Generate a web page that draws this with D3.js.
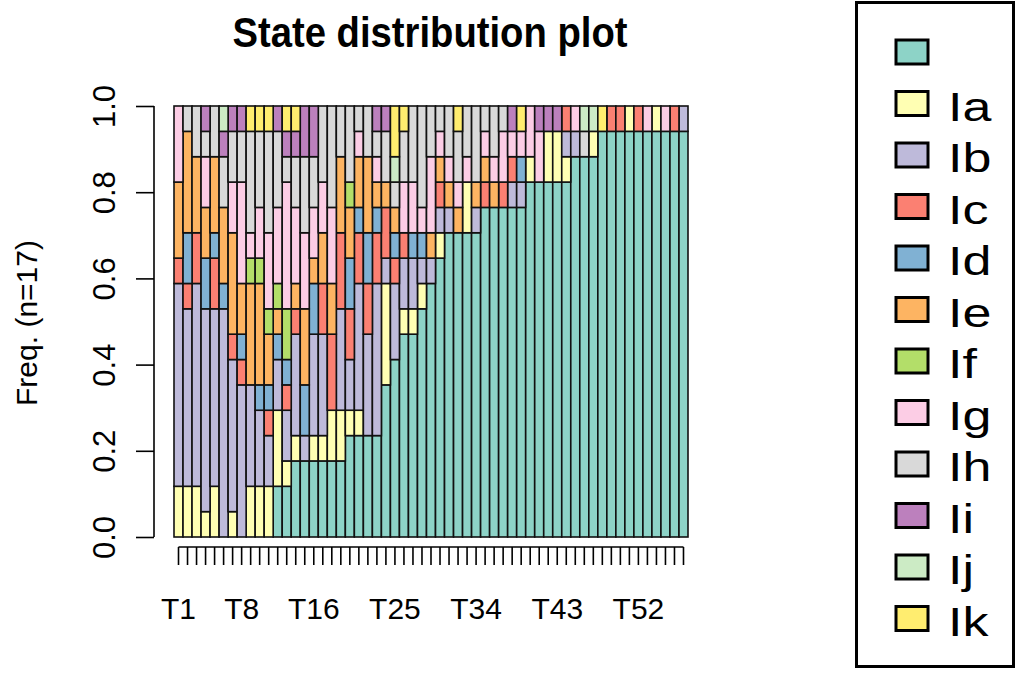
<!DOCTYPE html>
<html>
<head>
<meta charset="utf-8">
<script src="https://cdn.jsdelivr.net/npm/d3@7"></script>
<style>
  html, body { margin: 0; padding: 0; background: #fff; }
  svg { display: block; }
  text { font-family: "Liberation Sans", Arial, Helvetica, sans-serif; fill: #000; }
</style>
</head>
<body>
<svg id="chart" width="1017" height="675"></svg>
<script>
// Time points T1..T57
const timeLabels = d3.range(1, 58).map(i => "T" + i);
const shownTicks = ["T1", "T8", "T16", "T25", "T34", "T43", "T52"];

// State labels and palette (bottom to top in each bar)
const stateLabels = ["", "Ia", "Ib", "Ic", "Id", "Ie", "If", "Ig", "Ih", "Ii", "Ij", "Ik"];
const stateColors = ["#8DD3C7", "#FFFFB3", "#BEBADA", "#FB8072", "#80B1D3", "#FDB462",
                     "#B3DE69", "#FCCDE5", "#D9D9D9", "#BC80BD", "#CCEBC5", "#FFED6F"];

const nSeq = 17;

// Number of sequences in each state at every time point
const sBlank = [0,0,0,0,0,0,0,0,0,0, 0,2,2,3,3,3,3,3,3,4, 4,4,4,6,7,8,8,9,10,11, 12,12,12,12,13,13,13,13,13,14, 14,14,14,14,15,15,15,16,16,16, 16,16,16,16,16,16,16];
const sIa    = [2,2,2,1,2,0,1,0,2,2, 2,3,1,1,0,1,1,2,2,1, 1,0,0,4,0,1,1,1,0,1, 0,0,2,0,0,0,0,0,0,1, 0,2,2,1,0,0,1,0,0,0, 1,0,0,1,0,0,0];
const sIb    = [8,7,8,8,7,9,6,6,4,3, 2,2,2,4,1,4,4,0,4,2, 5,4,6,1,3,2,2,1,1,1, 1,0,0,1,0,0,0,1,1,0, 0,0,0,1,1,0,0,0,0,0, 0,0,0,0,0,0,1];
const sIc    = [1,1,2,0,2,0,1,1,0,0, 1,0,1,1,0,0,2,3,3,2, 2,2,2,2,1,1,0,0,0,1, 0,0,0,0,1,0,1,1,0,0, 0,0,0,1,0,0,0,0,1,1, 0,1,0,0,0,1,0];
const sId    = [0,2,0,2,1,1,0,1,0,1, 1,1,1,0,2,2,0,0,0,2, 1,2,1,0,1,0,1,1,0,0, 0,0,0,0,0,0,0,0,1,0, 0,0,0,0,0,0,0,0,0,0, 0,0,0,0,0,0,0];
const sIe    = [3,4,3,2,3,3,4,2,4,4, 2,1,0,1,3,1,2,2,3,2, 2,3,1,1,1,0,0,0,1,1, 1,1,0,1,1,1,0,0,0,0, 0,0,0,0,0,0,0,0,0,0, 0,0,0,0,0,0,0];
const sIf    = [0,0,0,0,0,0,0,0,1,1, 1,1,2,0,0,0,0,0,0,1, 0,0,0,0,0,0,0,0,0,0, 0,0,0,0,0,0,0,0,0,0, 0,0,0,0,0,0,0,0,0,0, 0,0,0,0,0,0,0];
const sIg    = [3,0,0,2,0,0,2,4,1,2, 3,3,5,3,3,2,2,3,0,0, 1,0,1,0,0,2,2,1,3,1, 1,1,1,0,1,1,2,1,1,2, 2,0,0,0,1,0,0,0,0,0, 0,0,1,0,1,0,0];
const sIh    = [0,1,2,1,2,2,2,2,4,3, 4,3,1,2,3,2,3,4,2,3, 1,2,1,2,1,2,3,4,2,1, 2,2,2,3,1,2,1,0,0,0, 0,0,0,0,0,1,0,0,0,0, 0,0,0,0,0,0,0];
const sIi    = [0,0,0,1,0,1,1,1,0,0, 0,1,1,1,2,2,0,0,0,0, 0,0,1,1,0,0,0,0,0,0, 0,0,0,0,0,0,0,1,0,0, 1,1,1,0,0,0,0,0,0,0, 0,0,0,0,0,0,0];
const sIj    = [0,0,0,0,0,1,0,0,0,0, 0,0,0,0,0,0,0,0,0,0, 0,0,0,0,1,0,0,0,0,0, 0,0,0,0,0,0,0,0,0,0, 0,0,0,0,0,1,1,0,0,0, 0,0,0,0,0,0,0];
const sIk    = [0,0,0,0,0,0,0,0,1,1, 1,0,1,1,0,0,0,0,0,0, 0,0,0,0,2,1,0,0,0,0, 0,1,0,0,0,0,0,0,1,0, 0,0,0,0,0,0,0,1,0,0, 0,0,0,0,0,0,0];

const stateCounts = [sBlank, sIa, sIb, sIc, sId, sIe, sIf, sIg, sIh, sIi, sIj, sIk];

// Rows for the stack layout: one per time point, frequency per state
const keys = stateLabels.map((_, i) => "s" + i);
const rows = timeLabels.map((t, j) => {
  const r = { time: t };
  stateCounts.forEach((arr, i) => { r["s" + i] = arr[j] / nSeq; });
  return r;
});

const svg = d3.select("#chart");
svg.append("rect").attr("width", 1017).attr("height", 675).attr("fill", "#fff");

const x = d3.scaleBand().domain(timeLabels).range([174, 688]).padding(0);
const y = d3.scaleLinear().domain([0, 1]).range([537, 106]);

const series = d3.stack().keys(keys)(rows);

// Stacked bars
const g = svg.append("g");
series.forEach((s, i) => {
  g.selectAll(null)
    .data(s.filter(d => d[1] - d[0] > 1e-9))
    .enter().append("rect")
    .attr("x", d => x(d.data.time))
    .attr("width", x.bandwidth())
    .attr("y", d => y(d[1]))
    .attr("height", d => y(d[0]) - y(d[1]))
    .attr("fill", stateColors[i])
    .attr("stroke", "#111")
    .attr("stroke-width", 1.6);
});

// Y axis
const yAxis = d3.axisLeft(y).tickValues([0, 0.2, 0.4, 0.6, 0.8, 1.0])
  .tickFormat(d3.format(".1f")).tickSize(18).tickPadding(0);
const ya = svg.append("g").attr("transform", "translate(154,0)").call(yAxis);
ya.select(".domain").attr("stroke", "#000").attr("stroke-width", 1.6).attr("d", `M0,${y(0)}V${y(1)}`);
ya.selectAll(".tick line").attr("stroke", "#000").attr("stroke-width", 1.6);
ya.selectAll(".tick text")
  .attr("font-size", 31)
  .attr("text-anchor", "middle")
  .attr("x", null).attr("dy", null)
  .attr("transform", "translate(-39,0) rotate(-90)");

// X axis
const xAxis = d3.axisBottom(x).tickSize(18).tickPadding(0)
  .tickFormat(d => shownTicks.includes(d) ? d : "");
const xa = svg.append("g").attr("transform", "translate(0,547)").call(xAxis);
const x0 = x(timeLabels[0]) + x.bandwidth() / 2;
const x1 = x(timeLabels[timeLabels.length - 1]) + x.bandwidth() / 2;
xa.select(".domain").attr("stroke", "#000").attr("stroke-width", 1.6).attr("d", `M${x0},0H${x1}`);
xa.selectAll(".tick line").attr("stroke", "#000").attr("stroke-width", 1.6);
xa.selectAll(".tick text").attr("font-size", 30).attr("y", 72).attr("dy", null);

// Titles
svg.append("text")
  .attr("x", 430).attr("y", 47)
  .attr("text-anchor", "middle")
  .attr("font-size", 42).attr("font-weight", "bold")
  .attr("textLength", 395).attr("lengthAdjust", "spacingAndGlyphs")
  .text("State distribution plot");

svg.append("text")
  .attr("transform", "translate(37,323) rotate(-90)")
  .attr("text-anchor", "middle")
  .attr("font-size", 30)
  .text("Freq. (n=17)");

// Legend
const lg = svg.append("g");
lg.append("rect").attr("x", 856.5).attr("y", 2.5).attr("width", 157).attr("height", 664)
  .attr("fill", "#fff").attr("stroke", "#000").attr("stroke-width", 3);
stateLabels.forEach((lab, i) => {
  const cy = 52 + i * 51.5;
  lg.append("rect").attr("x", 896).attr("y", cy - 12).attr("width", 32).attr("height", 24)
    .attr("fill", stateColors[i]).attr("stroke", "#000").attr("stroke-width", 3);
  lg.append("text")
    .attr("transform", `translate(948,${cy + 17}) scale(1.3,1)`)
    .attr("font-size", 40).text(lab);
});
</script>
</body>
</html>
